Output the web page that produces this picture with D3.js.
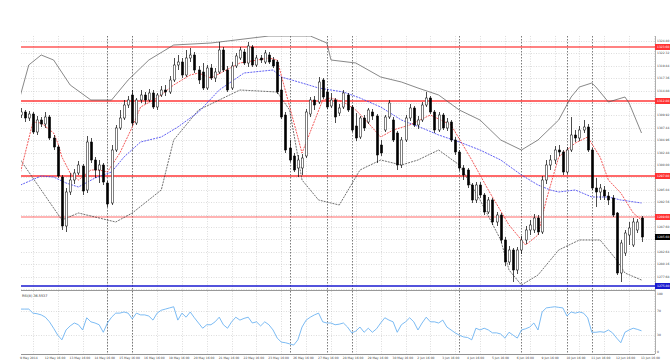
<!DOCTYPE html>
<html>
<head>
<meta charset="utf-8">
<script src="https://cdn.jsdelivr.net/npm/d3@7"></script>
<style>
  body { margin: 0; background: #fff; }
  svg { display: block; }
  text { font-family: "DejaVu Sans", sans-serif; }
</style>
</head>
<body>
<svg id="chart"></svg>
<script>
var width = 670, height = 362;

// H4 candles (price)
var opens = [1310.0,1310.6,1309.4,1310.2,1306.6,1309.0,1308.2,1309.6,1305.4,1303.6,1297.6,1287.8,1294.6,1297.0,1298.4,1299.8,1295.0,1304.6,1301.0,1299.0,
  1300.0,1296.4,1292.4,1303.0,1307.4,1309.4,1312.0,1314.0,1308.4,1313.0,1314.0,1313.0,1314.4,1311.6,1314.0,1315.0,1314.6,1317.0,1320.0,1320.6,
  1318.0,1321.4,1322.0,1319.0,1318.6,1315.4,1319.4,1317.4,1318.6,1323.0,1319.0,1315.4,1319.8,1321.4,1322.6,1320.4,1323.6,1320.0,1321.4,1320.6,
  1322.0,1321.0,1320.6,1315.0,1310.0,1303.4,1301.8,1299.4,1299.4,1301.8,1310.2,1313.0,1312.6,1317.0,1314.6,1311.8,1313.0,1310.4,1311.6,1314.0,
  1311.6,1307.8,1305.6,1309.4,1308.6,1310.6,1309.8,1304.0,1307.0,1309.6,1309.0,1306.4,1300.0,1305.0,1309.4,1311.4,1308.0,1309.0,1312.0,1313.4,
  1310.6,1307.0,1310.0,1307.4,1308.6,1305.0,1302.6,1299.4,1299.0,1296.0,1293.0,1296.0,1294.0,1290.6,1293.0,1288.6,1290.0,1285.0,1280.6,1283.0,
  1279.0,1283.0,1285.0,1287.0,1287.0,1289.4,1286.6,1297.0,1300.0,1301.0,1303.0,1302.6,1298.6,1303.0,1306.0,1305.4,1307.0,1307.6,1303.0,1295.4,
  1294.6,1295.0,1293.8,1293.4,1290.4,1278.4,1282.4,1286.0,1284.0,1287.0,1289.4];
var highs = [1311.4,1311.0,1310.8,1310.6,1309.8,1309.6,1310.6,1310.0,1306.0,1304.0,1298.0,1295.4,1298.4,1299.2,1300.8,1300.2,1305.8,1305.4,1301.6,1301.0,
  1300.4,1296.8,1304.0,1308.0,1311.0,1313.0,1313.8,1315.0,1313.4,1315.0,1314.6,1315.2,1315.0,1314.4,1315.8,1316.0,1317.8,1321.4,1322.0,1321.4,
  1323.0,1323.4,1322.6,1319.8,1320.4,1320.0,1320.2,1319.4,1324.6,1323.6,1319.8,1320.6,1322.4,1323.6,1323.2,1324.6,1324.0,1322.0,1322.0,1323.0,
  1322.6,1321.6,1321.0,1317.6,1310.6,1305.0,1302.4,1302.0,1302.2,1311.2,1313.6,1313.8,1317.6,1317.4,1315.2,1314.4,1313.4,1312.2,1315.0,1314.4,
  1312.0,1310.4,1309.8,1310.0,1311.4,1311.2,1310.2,1305.0,1310.0,1313.0,1309.6,1306.8,1305.6,1310.0,1312.2,1311.8,1309.8,1312.6,1314.6,1313.8,
  1311.0,1310.6,1310.4,1309.4,1309.0,1305.6,1303.0,1300.0,1299.4,1296.4,1296.6,1296.6,1294.4,1293.6,1293.4,1290.6,1290.4,1285.6,1283.8,1283.4,
  1283.6,1285.8,1287.8,1289.0,1290.2,1290.0,1297.8,1301.0,1302.0,1303.8,1304.0,1303.0,1303.6,1309.6,1307.0,1307.8,1309.0,1308.2,1303.4,1297.4,
  1296.2,1295.8,1294.6,1294.0,1290.6,1285.0,1287.0,1288.6,1289.4,1289.2,1289.8];
var lows = [1309.4,1308.6,1308.8,1306.2,1306.0,1307.6,1307.4,1305.0,1303.0,1297.4,1287.0,1286.6,1294.0,1296.2,1298.0,1294.0,1294.4,1300.4,1297.4,1296.4,
  1296.0,1291.6,1292.0,1302.6,1307.0,1309.0,1311.4,1307.8,1308.0,1312.4,1312.2,1312.6,1311.2,1311.0,1313.6,1313.8,1314.2,1316.6,1319.0,1317.4,
  1317.6,1320.6,1318.4,1316.2,1315.0,1315.0,1317.0,1316.6,1318.2,1318.6,1314.6,1315.0,1319.4,1321.0,1320.0,1319.6,1319.6,1319.6,1320.4,1320.2,
  1320.2,1319.4,1314.2,1309.2,1302.4,1300.6,1298.6,1297.6,1298.0,1301.4,1309.6,1311.0,1312.2,1313.2,1311.2,1311.4,1308.4,1309.8,1311.2,1310.6,
  1306.6,1304.8,1305.2,1306.8,1308.2,1309.0,1300.4,1301.8,1306.6,1309.2,1304.6,1299.0,1299.4,1304.6,1308.8,1307.6,1307.2,1308.6,1311.6,1310.2,
  1306.4,1306.6,1307.0,1306.8,1304.6,1302.0,1298.8,1297.0,1295.4,1292.4,1292.4,1293.4,1290.0,1290.2,1288.0,1287.8,1284.4,1279.8,1280.0,1276.6,
  1278.2,1282.2,1284.2,1286.0,1286.4,1286.0,1286.2,1296.2,1299.0,1300.2,1301.8,1298.0,1298.2,1302.6,1304.6,1304.8,1306.4,1302.6,1295.0,1291.6,
  1293.0,1293.0,1292.0,1289.6,1278.0,1276.6,1281.8,1284.0,1283.6,1286.4,1284.6];
var closes = [1310.6,1309.4,1310.2,1306.6,1309.0,1308.2,1309.6,1305.4,1303.6,1297.8,1287.8,1294.6,1297.0,1298.4,1300.0,1294.8,1304.6,1301.0,1299.0,1300.0,
  1296.6,1292.2,1303.0,1307.4,1309.4,1312.0,1313.0,1308.4,1313.0,1314.0,1313.0,1314.4,1311.6,1314.0,1315.0,1314.6,1317.0,1320.0,1320.6,1318.0,
  1321.4,1322.0,1319.0,1317.0,1315.4,1319.4,1317.4,1318.6,1323.0,1319.0,1315.0,1319.8,1321.8,1323.0,1320.4,1323.8,1320.0,1321.4,1321.0,1322.4,
  1320.6,1319.8,1314.6,1309.6,1303.0,1301.0,1299.0,1301.0,1301.4,1310.6,1313.0,1312.0,1316.6,1313.6,1311.6,1313.0,1309.6,1311.4,1314.4,1311.0,
  1307.0,1305.4,1309.4,1307.4,1311.0,1309.8,1302.0,1302.4,1309.6,1312.4,1305.0,1300.0,1305.0,1309.4,1311.4,1308.0,1309.0,1312.0,1313.4,1310.6,
  1307.0,1310.0,1307.4,1308.6,1305.0,1302.6,1299.4,1298.0,1296.0,1293.0,1296.0,1294.0,1290.6,1293.0,1288.6,1290.0,1285.0,1280.6,1283.0,1279.0,
  1283.0,1285.0,1287.0,1288.0,1289.4,1286.6,1297.0,1300.0,1301.0,1303.0,1302.6,1298.6,1303.0,1306.0,1305.4,1307.0,1307.6,1303.0,1295.4,1294.6,
  1295.4,1293.8,1293.0,1290.0,1278.4,1284.4,1286.4,1287.4,1288.6,1288.6,1285.6];

// RSI(8) per bar
var rsi = [74,74,74,67,66,64,60,52,41,29,21,38,45,50,47,38,59,52,50,47,
  34,50,60,67,67,69,67,57,67,64,64,62,55,67,72,74,76,78,55,67,
  60,69,59,50,41,47,47,52,60,47,41,52,60,55,58,60,50,52,45,52,
  47,38,24,17,16,14,12,21,43,55,60,64,67,52,50,50,47,48,50,43,
  33,36,43,34,41,34,40,50,59,55,52,34,47,52,59,52,38,50,60,52,
  52,50,55,43,38,33,29,26,25,21,41,38,41,38,33,33,31,24,34,29,
  24,38,40,43,50,38,69,76,77,78,77,76,62,69,67,69,67,59,34,34,
  35,34,38,33,24,16,34,38,41,39,36.55];

// fast MA (red) read at bar positions
var fastBars = [0,3,5,8,9,10,12,14,17,19,21,24,27,29,33,37,41,43,46,53,60,62,68,73,75,78,81,84,87,90,94,99,104,109,113,118,122,125,127,130,134,137,140,142,145,148,150];
var fastVals = [1298.6,1308.6,1308.4,1306.4,1304.4,1301.6,1298.4,1297.0,1299.0,1299.0,1298.6,1302.4,1307.6,1311.6,1313.4,1316.0,1318.0,1318.4,1317.4,1320.4,1321.4,1321.0,1302.4,1313.0,1313.4,1312.6,1311.0,1308.4,1305.6,1307.0,1308.0,1310.0,1308.0,1301.0,1295.0,1288.0,1284.0,1286.0,1293.0,1301.6,1304.4,1305.6,1301.6,1297.0,1294.4,1290.4,1289.0];

// slow MA (blue)
var slowBars = [0,5,8,11,14,18,22,25,29,34,38,43,48,54,61,63,68,72,78,82,87,92,97,101,106,111,116,121,125,128,130,134,138,142,145,150];
var slowVals = [1296.0,1297.8,1297.6,1296.4,1295.6,1297.4,1298.6,1301.6,1304.6,1305.6,1307.6,1310.6,1315.0,1318.4,1319.0,1317.6,1316.4,1315.4,1314.6,1313.4,1311.6,1309.0,1307.4,1306.0,1304.6,1303.0,1301.0,1298.0,1296.0,1295.0,1294.6,1295.0,1293.6,1293.6,1293.0,1292.4];

// bands
var upperBars = [0,2,5,8,12,17,22,26,31,37,46,52,60,65,70,74,75,81,87,92,96,101,106,111,116,121,125,130,133,135,138,139,142,146,147,150];
var upperVals = [1314.0,1320.0,1322.0,1321.0,1316.0,1313.0,1313.0,1317.0,1321.0,1324.0,1324.4,1325.0,1325.8,1325.8,1325.8,1324.4,1321.0,1320.4,1317.6,1316.6,1315.4,1314.0,1311.0,1309.0,1305.0,1303.0,1305.0,1309.0,1313.6,1315.6,1316.4,1315.6,1312.6,1313.6,1312.4,1306.4];
var lowerBars = [0,5,10,14,23,27,34,37,43,53,62,65,68,72,77,82,87,92,96,101,106,111,116,118,121,125,130,135,140,144,146,150];
var lowerVals = [1301.0,1295.0,1289.0,1290.4,1288.6,1290.4,1295.0,1305.0,1311.0,1315.0,1314.6,1311.0,1297.0,1293.0,1292.0,1299.0,1301.0,1300.0,1301.0,1303.0,1300.0,1293.0,1285.0,1279.0,1276.0,1278.0,1283.0,1285.0,1285.0,1281.0,1278.4,1277.0];

var redLevels = [1323.6, 1312.8, 1297.8, 1289.6];
var redOpacity = [0.75, 0.9, 0.9, 0.45];
var blueLevel = 1275.8;
var lastPrice = 1285.6;

var priceTicks = [1324.80,1322.32,1319.84,1317.36,1314.88,1312.40,1309.92,1307.44,1304.96,1302.48,1300.00,
  1297.52,1295.04,1292.56,1290.08,1287.60,1285.12,1282.64,1280.16,1277.68,1275.20];
var rsiTicks = [100, 70, 30, 0];
var timeLabels = ["9 May 2014","12 May 16:00","13 May 16:00","14 May 16:00","15 May 16:00","16 May 16:00",
  "19 May 16:00","20 May 16:00","21 May 16:00","22 May 16:00","23 May 16:00","26 May 16:00","27 May 16:00",
  "28 May 16:00","29 May 16:00","30 May 16:00","2 Jun 16:00","3 Jun 16:00","4 Jun 16:00","5 Jun 16:00",
  "6 Jun 16:00","9 Jun 16:00","10 Jun 16:00","11 Jun 16:00","12 Jun 16:00","13 Jun 16:00"];
var markerBars = [21, 27, 65, 74, 80, 106, 121, 132, 138];

var svg = d3.select("#chart").attr("width", width).attr("height", height);

var left = 21, right = 655;
var mainTop = 36, mainBottom = 290;
var rsiTop = 291, rsiBottom = 354;

var x = d3.scaleLinear().domain([0, 150]).range([20.5, 641.5]);
var y = d3.scaleLinear().domain([1275.0, 1325.8]).range([mainBottom, mainTop]);
var yRsi = d3.scaleLinear().domain([0, 100]).range([352, 294]);

svg.append("rect").attr("width", width).attr("height", height).attr("fill", "#fff");

var defs = svg.append("defs");
defs.append("clipPath").attr("id", "clipMain").append("rect")
  .attr("x", left).attr("y", mainTop).attr("width", right - left).attr("height", mainBottom - mainTop);
defs.append("clipPath").attr("id", "clipRsi").append("rect")
  .attr("x", left).attr("y", rsiTop).attr("width", right - left).attr("height", rsiBottom - rsiTop);

// grid
var grid = svg.append("g").attr("stroke", "#c6c6c6").attr("stroke-width", 0.6).attr("stroke-dasharray", "1,1.5");
grid.selectAll("line.h").data(priceTicks).enter().append("line")
  .attr("x1", left).attr("x2", right)
  .attr("y1", function(d) { return Math.round(y(d)) + 0.5; })
  .attr("y2", function(d) { return Math.round(y(d)) + 0.5; });
grid.selectAll("line.r").data([70, 30]).enter().append("line")
  .attr("x1", left).attr("x2", right)
  .attr("y1", function(d) { return Math.round(yRsi(d)) + 0.5; })
  .attr("y2", function(d) { return Math.round(yRsi(d)) + 0.5; });
grid.selectAll("line.v").data(timeLabels).enter().append("line")
  .attr("x1", function(d, k) { return Math.round(x(3 + 6 * k)) + 0.5; })
  .attr("x2", function(d, k) { return Math.round(x(3 + 6 * k)) + 0.5; })
  .attr("y1", mainTop).attr("y2", rsiBottom);

svg.append("g").attr("stroke", "#444").attr("stroke-width", 0.7).attr("stroke-dasharray", "1.5,1.5")
  .selectAll("line").data(markerBars).enter().append("line")
  .attr("x1", function(d) { return Math.round(x(d)) + 0.5; })
  .attr("x2", function(d) { return Math.round(x(d)) + 0.5; })
  .attr("y1", mainTop).attr("y2", rsiBottom);

// horizontal levels
var levels = svg.append("g");
levels.selectAll("line").data(redLevels).enter().append("line")
  .attr("x1", left).attr("x2", right)
  .attr("y1", function(d) { return y(d); }).attr("y2", function(d) { return y(d); })
  .attr("stroke", "#f22").attr("stroke-opacity", function(d, i) { return redOpacity[i]; })
  .attr("stroke-width", 1.6);
levels.append("line")
  .attr("x1", left).attr("x2", right).attr("y1", y(blueLevel)).attr("y2", y(blueLevel))
  .attr("stroke", "#1a1ad0").attr("stroke-width", 1.4);

// indicator lines
var plot = svg.append("g").attr("clip-path", "url(#clipMain)");
var line = d3.line().x(function(d) { return x(d[0]); }).y(function(d) { return y(d[1]); });

plot.append("path").datum(d3.zip(upperBars, upperVals)).attr("d", line)
  .attr("fill", "none").attr("stroke", "#555").attr("stroke-width", 0.7);
plot.append("path").datum(d3.zip(lowerBars, lowerVals)).attr("d", line)
  .attr("fill", "none").attr("stroke", "#333").attr("stroke-width", 0.7).attr("stroke-dasharray", "2,1");
plot.append("path").datum(d3.zip(slowBars, slowVals)).attr("d", line)
  .attr("fill", "none").attr("stroke", "#3838f0").attr("stroke-width", 0.8).attr("stroke-dasharray", "2,1");
plot.append("path").datum(d3.zip(fastBars, fastVals)).attr("d", line)
  .attr("fill", "none").attr("stroke", "#f03030").attr("stroke-width", 0.8).attr("stroke-dasharray", "2,1");

// candles
var bars = d3.range(opens.length);
var cg = plot.append("g");
cg.selectAll("line").data(bars).enter().append("line")
  .attr("x1", function(i) { return Math.round(x(i)) + 0.5; })
  .attr("x2", function(i) { return Math.round(x(i)) + 0.5; })
  .attr("y1", function(i) { return y(highs[i]); })
  .attr("y2", function(i) { return y(lows[i]); })
  .attr("stroke", "#000").attr("stroke-width", 0.7);
cg.selectAll("rect").data(bars).enter().append("rect")
  .attr("x", function(i) { return Math.round(x(i)) - 0.6; })
  .attr("width", 2.2)
  .attr("y", function(i) { return y(Math.max(opens[i], closes[i])); })
  .attr("height", function(i) { return Math.max(Math.abs(y(opens[i]) - y(closes[i])), 0.8); })
  .attr("fill", function(i) { return closes[i] >= opens[i] ? "#fff" : "#000"; })
  .attr("stroke", "#000").attr("stroke-width", 0.5);

// separator and axes
svg.append("line").attr("x1", left).attr("x2", right).attr("y1", 290.5).attr("y2", 290.5)
  .attr("stroke", "#999").attr("stroke-width", 1);
svg.append("line").attr("x1", left).attr("x2", right).attr("y1", 354.5).attr("y2", 354.5)
  .attr("stroke", "#777").attr("stroke-width", 0.8);
svg.append("line").attr("x1", right + 0.5).attr("x2", right + 0.5).attr("y1", mainTop).attr("y2", rsiBottom)
  .attr("stroke", "#999").attr("stroke-width", 0.8);

// RSI
svg.append("g").attr("clip-path", "url(#clipRsi)").append("path")
  .datum(rsi)
  .attr("d", d3.line().x(function(d, i) { return x(i); }).y(function(d) { return yRsi(d); }))
  .attr("fill", "none").attr("stroke", "#5aaaf0").attr("stroke-width", 0.8);
svg.append("text").attr("x", 22).attr("y", 297).attr("font-size", 3.4).attr("fill", "#333")
  .text("RSI(8) 36.5537");

// price axis labels (hidden where a tag covers them)
var fs = 3.0;
var tagged = redLevels.concat([blueLevel, lastPrice]);
var freeTicks = priceTicks.filter(function(t) {
  return tagged.every(function(v) { return Math.abs(y(v) - y(t)) > 6; });
});
svg.append("g").selectAll("text").data(freeTicks).enter().append("text")
  .attr("x", 657).attr("y", function(d) { return y(d); }).attr("dy", "0.35em")
  .attr("font-size", fs).attr("fill", "#444")
  .text(function(d) { return d.toFixed(2); });
svg.append("g").selectAll("text").data(rsiTicks).enter().append("text")
  .attr("x", 657).attr("y", function(d) { return yRsi(d); }).attr("dy", "0.35em")
  .attr("font-size", fs).attr("fill", "#444")
  .text(function(d) { return d; });

function tag(value, color) {
  var g = svg.append("g");
  g.append("rect").attr("x", right).attr("y", y(value) - 3).attr("width", width - right).attr("height", 6)
    .attr("fill", color);
  g.append("text").attr("x", 657).attr("y", y(value)).attr("dy", "0.35em")
    .attr("font-size", fs).attr("fill", "#fff").text(value.toFixed(2));
}
redLevels.forEach(function(v) { tag(v, "#f33"); });
tag(blueLevel, "#1a1ad0");
tag(lastPrice, "#000");

// time labels
svg.append("g").selectAll("text").data(timeLabels).enter().append("text")
  .attr("x", function(d, k) { return x(3 + 6 * k) - 13; })
  .attr("y", 359).attr("font-size", fs).attr("fill", "#444")
  .text(function(d) { return d; });
</script>
</body>
</html>
